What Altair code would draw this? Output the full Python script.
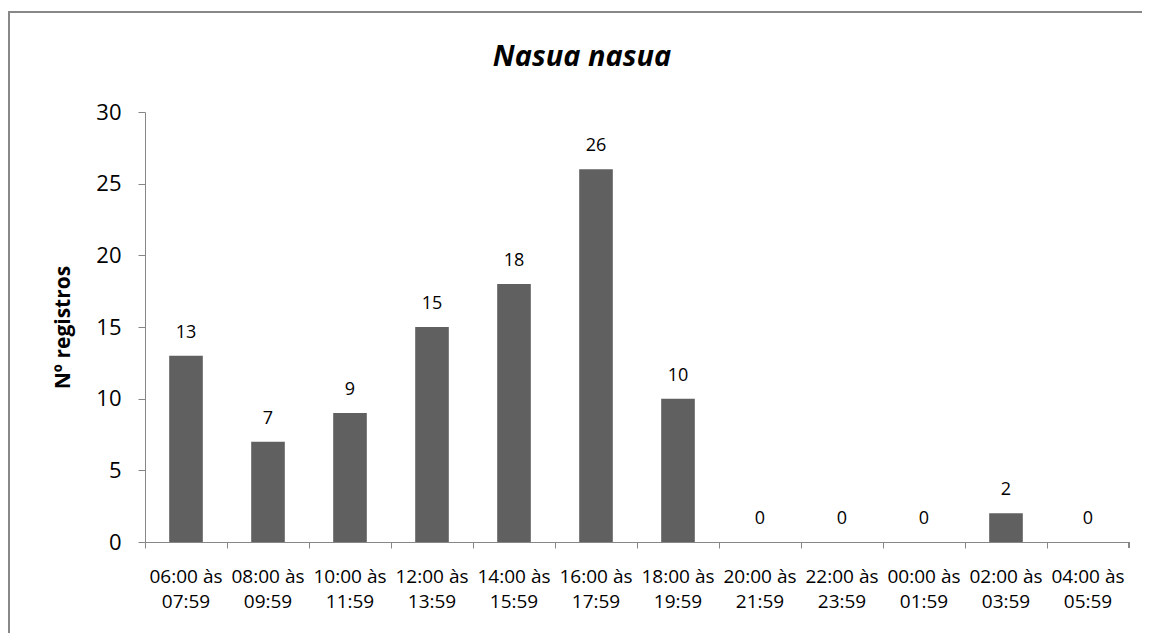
import altair as alt
import pandas as pd

titulo = "Nasua nasua"
periodos = ["06:00 às\n07:59", "08:00 às\n09:59", "10:00 às\n11:59", "12:00 às\n13:59",
            "14:00 às\n15:59", "16:00 às\n17:59", "18:00 às\n19:59", "20:00 às\n21:59",
            "22:00 às\n23:59", "00:00 às\n01:59", "02:00 às\n03:59", "04:00 às\n05:59"]
registros = [13, 7, 9, 15, 18, 26, 10, 0, 0, 0, 2, 0]
y_ticks = [0, 5, 10, 15, 20, 25, 30]

df = pd.DataFrame({"periodo": periodos, "registros": registros})

W, H = 984, 430
FONT = "Open Sans"
GRAY = "#868686"

x_enc = alt.X("periodo:N", sort=periodos, title=None,
              scale=alt.Scale(paddingInner=0, paddingOuter=0),
              axis=alt.Axis(bandPosition=0, labelOffset=0, labelAngle=0,
                            labelExpr="split(datum.label, '\\n')",
                            labelLineHeight=25, labelFont=FONT, labelFontSize=19,
                            labelColor="#000000", labelPadding=19, labelOverlap=False,
                            tickSize=6, tickColor=GRAY, domainColor=GRAY,
                            labelBaseline="top"))
y_enc = alt.Y("registros:Q", title="Nº registros",
              scale=alt.Scale(domain=[0, 30], nice=False),
              axis=alt.Axis(values=y_ticks, grid=False, tickSize=7, tickColor=GRAY,
                            domainColor=GRAY, labelFont=FONT, labelFontSize=22,
                            labelColor="#000000", labelPadding=17,
                            titleFont=FONT, titleFontSize=21, titleFontWeight="bold",
                            titleColor="#000000", titlePadding=22))

base = alt.Chart(df)
bars = base.mark_bar(color="#606060", width=alt.RelativeBandSize(0.41)).encode(x=x_enc, y=y_enc)
labels = base.mark_text(font=FONT, fontSize=18, color="#000000", baseline="alphabetic", dy=-18).encode(
    x=alt.X("periodo:N", sort=periodos), y="registros:Q", text="registros:Q")

title_mark = alt.Chart(pd.DataFrame({"t": [titulo]})).mark_text(
    font=FONT, fontSize=29, fontStyle="italic", fontWeight="bold", color="#000000",
    align="center", baseline="middle").encode(
    x=alt.value(437), y=alt.value(-55), text="t:N")

end_tick = alt.Chart(df).mark_rule(color=GRAY).encode(
    x=alt.value(W), y=alt.value(H), y2=alt.value(H + 6))
border_left = alt.Chart(df).mark_rule(color="#888888", strokeWidth=2).encode(
    x=alt.value(-136), y=alt.value(-100), y2=alt.value(H + 100))
border_top = alt.Chart(df).mark_rule(color="#888888", strokeWidth=2).encode(
    x=alt.value(-137), x2=alt.value(W + 20), y=alt.value(-100))

chart = alt.layer(bars, labels, title_mark, end_tick, border_left, border_top).properties(
    width=W, height=H,
    autosize=alt.AutoSizeParams(type="none"),
    padding={"left": 137, "top": 104, "right": 13, "bottom": 91},
).configure_view(stroke=None)

chart.save("out.html", embed_options={"renderer": "svg", "actions": False})
